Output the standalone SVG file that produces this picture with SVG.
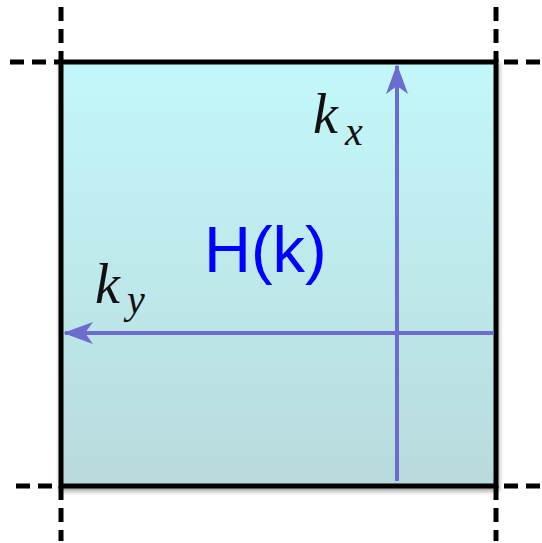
<svg xmlns="http://www.w3.org/2000/svg" width="542" height="543" viewBox="0 0 542 543">
<defs>
<linearGradient id="bg" x1="0" y1="0" x2="0" y2="1">
<stop offset="0" stop-color="#c3f8fa"/>
<stop offset="1" stop-color="#b9dadd"/>
</linearGradient>
<marker id="ah" viewBox="0 0 30 22" refX="28" refY="11" markerWidth="30" markerHeight="22" markerUnits="userSpaceOnUse" orient="auto">
<path d="M30,11 L0,0 L8,11 L0,22 Z" fill="#6b6bd0"/>
</marker>
<filter id="sh" x="-10%" y="-10%" width="120%" height="120%">
<feGaussianBlur in="SourceAlpha" stdDeviation="2"/>
<feOffset dx="1" dy="3"/>
<feComponentTransfer><feFuncA type="linear" slope="0.35"/></feComponentTransfer>
<feMerge><feMergeNode/><feMergeNode in="SourceGraphic"/></feMerge>
</filter>
</defs>
<style>
.dash{stroke:#000;stroke-width:5;stroke-dasharray:14 8;fill:none}
.ax{stroke:#6b6bd0;stroke-width:4;fill:none}
.m{font-family:"Liberation Serif","DejaVu Serif",serif;font-style:italic;fill:#111}
</style>
<g id="zone" filter="url(#sh)">
<rect x="61" y="62" width="435" height="424" fill="url(#bg)" stroke="#000" stroke-width="5"/>
</g>
<g id="grid">
<line class="dash" x1="61" y1="7" x2="61" y2="62"/>
<line class="dash" x1="496" y1="7" x2="496" y2="62"/>
<line class="dash" x1="61" y1="486" x2="61" y2="541"/>
<line class="dash" x1="496" y1="486" x2="496" y2="541"/>
<line class="dash" x1="10" y1="62" x2="61" y2="62"/>
<line class="dash" x1="504" y1="62" x2="542" y2="62"/>
<line class="dash" x1="16" y1="486" x2="61" y2="486"/>
<line class="dash" x1="504" y1="486" x2="542" y2="486"/>
</g>
<g id="connectors">
<line class="ax" x1="397" y1="481" x2="397" y2="66" marker-end="url(#ah)"/>
<line class="ax" x1="494" y1="333" x2="65" y2="333" marker-end="url(#ah)"/>
</g>
<g id="labels">
<text class="m" x="313" y="133" font-size="56">k</text>
<text class="m" x="345" y="145" font-size="40">x</text>
<text class="m" x="95" y="303" font-size="56">k</text>
<text class="m" x="127" y="313" font-size="40">y</text>
<text x="204" y="272" font-family="Liberation Sans,Arial,sans-serif" font-size="65" fill="#0000ff">H(k)</text>
</g>
</svg>
